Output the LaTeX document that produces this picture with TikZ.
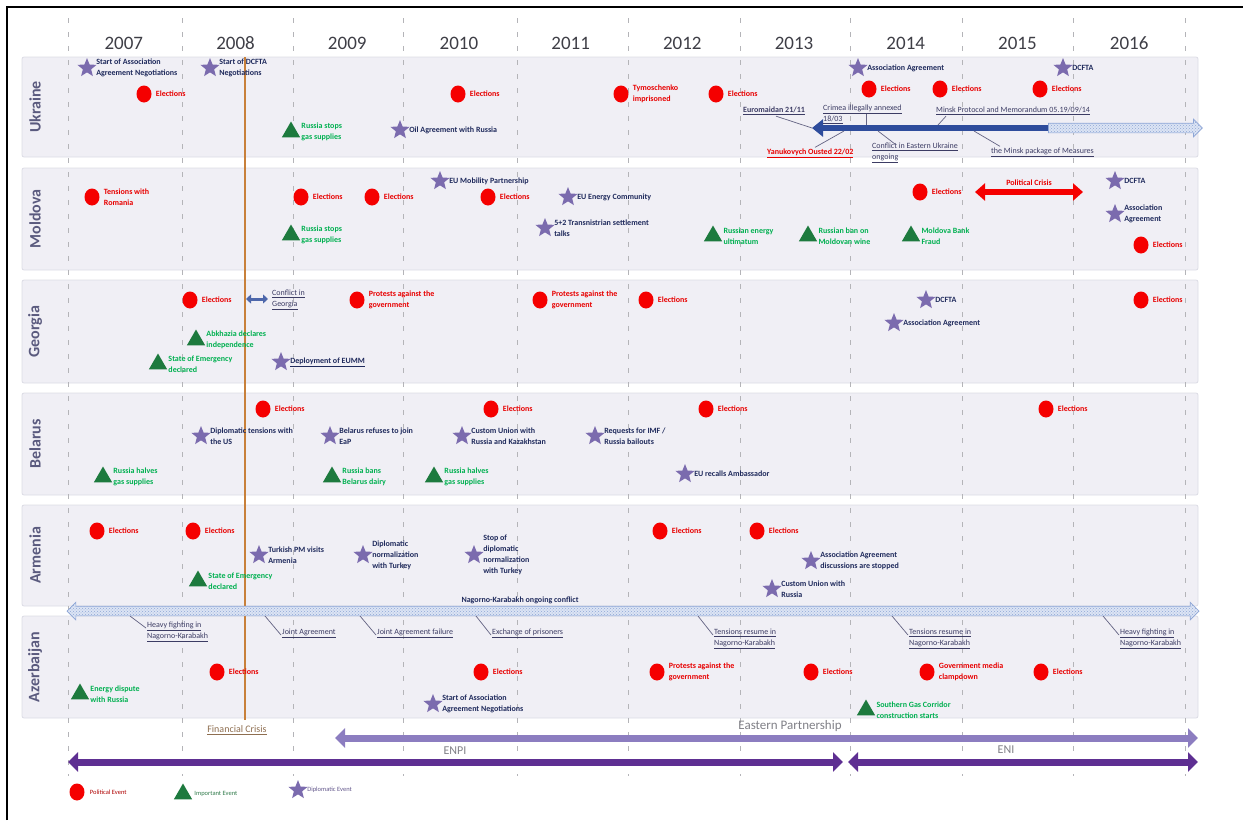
\documentclass[tikz,border=0pt]{standalone}
\usepackage{fontspec}
\setmainfont{Carlito}
\usepackage{tikz}
\usetikzlibrary{positioning, shapes.geometric, shapes.arrows, arrows.meta, patterns}

\definecolor{bandfill}{HTML}{F0EFF5}
\definecolor{bandline}{HTML}{DCDCE4}
\definecolor{yeargrid}{HTML}{B4B4B8}
\definecolor{yeargrey}{HTML}{3E3E46}
\definecolor{countrycol}{HTML}{5A5A7E}
\definecolor{polred}{HTML}{F50000}
\definecolor{poltxt}{HTML}{E80000}
\definecolor{impgreen}{HTML}{1D7A3E}
\definecolor{imptxt}{HTML}{00B050}
\definecolor{dipstar}{HTML}{7B6BAE}
\definecolor{diptxt}{HTML}{1F2A5C}
\definecolor{uablue}{HTML}{2E4C9C}
\definecolor{hatchfill}{HTML}{DCE4F4}
\definecolor{hatchline}{HTML}{8EA6D6}
\definecolor{crisisorange}{HTML}{C8803A}
\definecolor{crisistxt}{HTML}{8E6E50}
\definecolor{eapcol}{HTML}{8C7DC0}
\definecolor{enpicol}{HTML}{5E2F92}
\definecolor{notecol}{HTML}{3C3C64}
\definecolor{bottomtxt}{HTML}{7F7F86}

\tikzset{
  every node/.style={font=\bfseries\fontsize{8}{11}\selectfont, inner sep=1pt},
  band/.style={draw=bandline, fill=bandfill, line width=0.8pt, rounded corners=2pt},
  yearline/.style={draw=yeargrid, line width=1pt, dash pattern=on 5pt off 9pt},
  year/.style={font=\fontsize{19}{20}\selectfont, text=yeargrey},
  country/.style={font=\bfseries\fontsize{16}{16}\selectfont, text=countrycol, rotate=90},
  polit/.style={ellipse, fill=polred, minimum width=15pt, minimum height=17pt, inner sep=0pt},
  impo/.style={regular polygon, regular polygon sides=3, fill=impgreen, minimum size=21pt, inner sep=0pt, yshift=-2pt},
  dipl/.style={star, star points=5, star point ratio=2.3, fill=dipstar, minimum size=20pt, inner sep=0pt},
  poltext/.style={text=poltxt, align=left},
  imptext/.style={text=imptxt, align=left},
  diptext/.style={text=diptxt, align=left},
  note/.style={text=notecol, align=left, font=\fontsize{8}{11}\selectfont},
  noteline/.style={draw=notecol!80, line width=0.7pt},
  hatcharrow/.style={draw=hatchline, line width=0.7pt, preaction={fill=hatchfill},
                     pattern=crosshatch dots, pattern color=hatchline,
                     inner xsep=0pt, inner ysep=4.5pt},
  uaarrow/.style={draw=uablue, line width=6.5pt, -{Triangle[length=11pt,width=17pt]}},
  pcarrow/.style={draw=polred, line width=6pt, {Triangle[length=10pt,width=17pt]}-{Triangle[length=10pt,width=17pt]}},
  gearrow/.style={draw=uablue!85!white, line width=3pt, {Triangle[length=5pt,width=9pt]}-{Triangle[length=5pt,width=9pt]}},
  eaparrow/.style={draw=eapcol, line width=7pt, {Triangle[length=10pt,width=19pt]}-{Triangle[length=10pt,width=19pt]}},
  enpiarrow/.style={draw=enpicol, line width=7pt, {Triangle[length=10pt,width=19pt]}-{Triangle[length=10pt,width=19pt]}},
  bottom/.style={font=\fontsize{13}{14}\selectfont, text=bottomtxt},
  legend/.style={font=\fontsize{6.5}{8}\selectfont},
}

\begin{document}
\begin{tikzpicture}[x=1pt, y=-1pt]
  \useasboundingbox (0,0) rectangle (1243,820);
  \draw[line width=2pt] (7,820) -- (7,7) -- (1243,7);

  % country bands
  \foreach \nm/\top/\bot/\lbl in {ua/57/157/Ukraine, md/168/270/Moldova, ge/280/383/Georgia,
                                  by/393/495/Belarus, am/505/606/Armenia, az/616/718/Azerbaijan}{
    \draw[band] (22,\top) rectangle (1198,\bot);
    \node[country] (lbl-\nm) at (35,{(\top+\bot)/2}) {\lbl};
  }

  % years
  \foreach \x in {68,182,293,403,517,628,740,850,962,1073,1185}
    \draw[yearline] (\x,18) -- (\x,776);
  \foreach \yr [count=\i] in {2007,...,2016}
    \node[year] (yr\yr) at ({68+111.7*(\i-0.5)},43) {\yr};

  % financial crisis
  \coordinate (fc-top) at (245,57);
  \coordinate (fc-bot) at (245,720);
  \draw[crisisorange, line width=1.8pt] (fc-top) -- (fc-bot);
  \node[font=\fontsize{10}{11}\selectfont, text=crisistxt] (fincrisis) at (237,730) {\underline{Financial Crisis}};

  % Ukraine conflict arrow
  \coordinate (uaC1) at (812,128);
  \coordinate (uaMid) at (1048,128);
  \node[single arrow, hatcharrow, minimum height=154pt,
        single arrow head extend=4pt] (ua-fut) at (1123,128) {};
  \draw[uaarrow] (uaMid) -- (uaC1);
  \coordinate (uaC2) at (866,125);
  \coordinate (uaC3) at (938,125);
  \coordinate (uaC4) at (844,131);
  \coordinate (uaC5) at (878,131);
  \coordinate (uaC6) at (974,131);
  \node[note, anchor=west, font=\bfseries\fontsize{8}{11}\selectfont] (euro) at (742,111) {\underline{Euromaidan 21/11}};
  \node[note, anchor=west] (crimea) at (822,114) {\underline{Crimea illegally annexed}\\\underline{18/03}};
  \node[note, anchor=west] (minskp) at (935,111) {\underline{Minsk Protocol and Memorandum 05.19/09/14}};
  \node[note, anchor=west, text=poltxt, font=\bfseries\fontsize{8}{11}\selectfont] (yanuk) at (766,153) {\underline{Yanukovych Ousted 22/02}};
  \node[note, anchor=west] (conflict) at (871,153) {\underline{Conflict in Eastern Ukraine}\\\underline{ongoing}};
  \node[note, anchor=west] (minskpk) at (990,152) {\underline{the Minsk package of Measures}};
  \draw[noteline] ([xshift=-30pt]euro.south east) -- (uaC1);
  \draw[noteline] (crimea.center -| uaC2) -- (uaC2);
  \draw[noteline] ([xshift=11pt]minskp.south west) -- (uaC3);
  \draw[noteline] (uaC4) -- ([xshift=49pt]yanuk.north west);
  \draw[noteline] (uaC5) -- ([xshift=25pt,yshift=-3pt]conflict.north west);
  \draw[noteline] (uaC6) -- ([xshift=10pt]minskpk.north west);

  % Moldova political crisis
  \coordinate (pcL) at (975,192);
  \coordinate (pcR) at (1083,192);
  \draw[pcarrow] (pcL) -- (pcR) node[midway, above=2pt, text=poltxt] (pc-lbl) {Political Crisis};

  % Georgia conflict
  \coordinate (geL) at (246,299);
  \coordinate (geR) at (268,299);
  \draw[gearrow] (geL) -- (geR);
  \node[note, anchor=west] (ge-conf) at (271,300) {\underline{Conflict in}\\\underline{Georgia}};

  % Nagorno-Karabakh
  \node[double arrow, hatcharrow, minimum height=1132pt,
        double arrow head extend=4pt] (nk) at (633,611) {};
  \node[diptext] (nk-lbl) at (520,600) {Nagorno-Karabakh ongoing conflict};
  \foreach \i/\cx/\lx/\ly/\txt in {
      1/130/146/621/{\underline{Heavy fighting in}\\\underline{Nagorno-Karabakh}},
      2/265/281/628/{\underline{Joint Agreement}},
      3/360/376/628/{\underline{Joint Agreement failure}},
      4/476/491/628/{\underline{Exchange of prisoners}},
      5/698/713/628/{\underline{Tensions resume in}\\\underline{Nagorno-Karabakh}},
      6/892/908/628/{\underline{Tensions resume in}\\\underline{Nagorno-Karabakh}},
      7/1103/1119/628/{\underline{Heavy fighting in}\\\underline{Nagorno-Karabakh}}}{
    \coordinate (nkC\i) at (\cx,616);
    \node[note, anchor=north west] (nk\i) at (\lx,\ly) {\txt};
    \draw[noteline] (nkC\i) -- ([yshift=-7pt]nk\i.north west);
  }

  % political events
  \foreach \nm/\px/\py/\txt in {
      ua-el1/144/94/Elections, ua-el2/458/94/Elections,
      ua-tym/621/94/{Tymoschenko\\imprisoned}, ua-el3/716/94/Elections,
      ua-el4/869/89/Elections, ua-el5/940/89/Elections, ua-el6/1040/89/Elections,
      md-rom/92/197/{Tensions with\\Romania}, md-el1/301/197/Elections,
      md-el2/372/197/Elections, md-el3/488/197/Elections,
      md-el4/920/192/Elections, md-el5/1141/245/Elections,
      ge-el1/190/300/Elections, ge-pr1/357/300/{Protests against the\\government},
      ge-pr2/540/300/{Protests against the\\government}, ge-el2/646/300/Elections,
      ge-el3/1141/300/Elections,
      by-el1/263/409/Elections, by-el2/491/409/Elections,
      by-el3/706/409/Elections, by-el4/1046/409/Elections,
      am-el1/97/531/Elections, am-el2/193/531/Elections,
      am-el3/660/531/Elections, am-el4/757/531/Elections,
      az-el1/217/672/Elections, az-el2/481/672/Elections,
      az-pr/657/672/{Protests against the\\government}, az-el3/811/672/Elections,
      az-med/927/672/{Government media\\clampdown}, az-el4/1041/672/Elections}{
    \node[polit] (\nm) at (\px,\py) {};
    \node[poltext, right=3pt of \nm] (\nm-t) {\txt};
  }

  % important events
  \foreach \nm/\px/\py/\txt in {
      ua-gas/291/130/{Russia stops\\gas supplies},
      md-gas/291/233/{Russia stops\\gas supplies},
      md-ult/713/234/{Russian energy\\ultimatum},
      md-wine/808/234/{Russian ban on\\Moldovan wine},
      md-bank/911/234/{Moldova Bank\\Fraud},
      ge-abk/196/338/{Abkhazia declares\\independence},
      ge-soe/158/362/{State of Emergency\\declared},
      by-gas1/103/475/{Russia halves\\gas supplies},
      by-dairy/332/475/{Russia bans\\Belarus dairy},
      by-gas2/434/475/{Russia halves\\gas supplies},
      am-soe/198/579/{State of Emergency\\declared},
      az-en/80/692/{Energy dispute\\with Russia},
      az-sgc/866/708/{Southern Gas Corridor\\construction starts}}{
    \node[impo] (\nm) at (\px,\py) {};
    \node[imptext, right=3pt of \nm] (\nm-t) {\txt};
  }

  % diplomatic events
  \foreach \nm/\px/\py/\txt in {
      ua-aan/87/68/{Start of Association\\Agreement Negotiations},
      ua-dcn/210/68/{Start of DCFTA\\Negotiations},
      ua-oil/400/130/{Oil Agreement with Russia},
      ua-aa/858/68/{Association Agreement},
      ua-dcfta/1063/68/DCFTA,
      md-mob/440/181/{EU Mobility Partnership},
      md-enc/568/197/{EU Energy Community},
      md-52/545/228/{5+2 Transnistrian settlement\\talks},
      md-dcfta/1115/181/DCFTA,
      md-aa/1115/214/{Association\\Agreement},
      ge-eumm/281/362/{\underline{Deployment of EUMM}},
      ge-dcfta/926/300/DCFTA,
      ge-aa/894/323/{Association Agreement},
      by-us/201/436/{Diplomatic tensions with\\the US},
      by-eap/330/436/{Belarus refuses to join\\EaP},
      by-cu/462/436/{Custom Union with\\Russia and Kazakhstan},
      by-imf/595/436/{Requests for IMF /\\Russia bailouts},
      by-amb/685/474/{EU recalls Ambassador},
      am-tpm/259/555/{Turkish PM visits\\Armenia},
      am-nor/363/555/{Diplomatic\\normalization\\with Turkey},
      am-stop/474/555/{Stop of\\diplomatic\\normalization\\with Turkey},
      am-aas/811/561/{Association Agreement\\discussions are stopped},
      am-cu/772/589/{Custom Union with\\Russia},
      az-aan/433/704/{Start of Association\\Agreement Negotiations}}{
    \node[dipl] (\nm) at (\px,\py) {};
    \node[diptext, right=2pt of \nm] (\nm-t) {\txt};
  }

  % programmes
  \coordinate (eapL) at (335,738);
  \coordinate (eapR) at (1198,738);
  \draw[eaparrow] (eapL) -- (eapR);
  \node[bottom] (eap) at (790,726) {Eastern Partnership};
  \coordinate (enpiL) at (68,762);
  \coordinate (enpiR) at (843,762);
  \coordinate (eniL) at (848,762);
  \coordinate (eniR) at (1198,762);
  \draw[enpiarrow] (enpiL) -- (enpiR);
  \draw[enpiarrow] (eniL) -- (eniR);
  \node[bottom, font=\fontsize{12}{13}\selectfont] (enpi) at (455,751) {ENPI};
  \node[bottom, font=\fontsize{12}{13}\selectfont] (eni) at (1006,750) {ENI};

  % legend
  \node[polit] (lg-pol) at (77,792) {};
  \node[legend, text=poltxt!75!black, right=4pt of lg-pol] (lg-pol-t) {Political Event};
  \node[impo] (lg-imp) at (183,792) {};
  \node[legend, text=impgreen!80!gray, right=4pt of lg-imp] (lg-imp-t) {Important Event};
  \node[dipl] (lg-dip) at (298,790) {};
  \node[legend, text=dipstar!80!black, right=2pt of lg-dip] (lg-dip-t) {Diplomatic Event};
\end{tikzpicture}
\end{document}
